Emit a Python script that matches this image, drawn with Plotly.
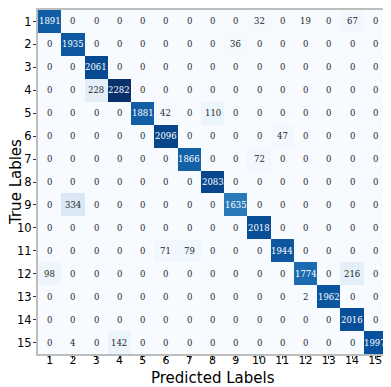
import plotly.graph_objects as go
import plotly.express as px

classes = list(range(1, 16))
labels = [str(c) for c in classes]

# rows = true labels, cols = predicted labels
row_1 = [1891, 0, 0, 0, 0, 0, 0, 0, 0, 32, 0, 19, 0, 67, 0]
row_2 = [0, 1935, 0, 0, 0, 0, 0, 0, 36, 0, 0, 0, 0, 0, 0]
row_3 = [0, 0, 2061, 0, 0, 0, 0, 0, 0, 0, 0, 0, 0, 0, 0]
row_4 = [0, 0, 228, 2282, 0, 0, 0, 0, 0, 0, 0, 0, 0, 0, 0]
row_5 = [0, 0, 0, 0, 1881, 42, 0, 110, 0, 0, 0, 0, 0, 0, 0]
row_6 = [0, 0, 0, 0, 0, 2096, 0, 0, 0, 0, 47, 0, 0, 0, 0]
row_7 = [0, 0, 0, 0, 0, 0, 1866, 0, 0, 72, 0, 0, 0, 0, 0]
row_8 = [0, 0, 0, 0, 0, 0, 0, 2083, 0, 0, 0, 0, 0, 0, 0]
row_9 = [0, 334, 0, 0, 0, 0, 0, 0, 1635, 0, 0, 0, 0, 0, 0]
row_10 = [0, 0, 0, 0, 0, 0, 0, 0, 0, 2018, 0, 0, 0, 0, 0]
row_11 = [0, 0, 0, 0, 0, 71, 79, 0, 0, 0, 1944, 0, 0, 0, 0]
row_12 = [98, 0, 0, 0, 0, 0, 0, 0, 0, 0, 0, 1774, 0, 216, 0]
row_13 = [0, 0, 0, 0, 0, 0, 0, 0, 0, 0, 0, 2, 1962, 0, 0]
row_14 = [0, 0, 0, 0, 0, 0, 0, 0, 0, 0, 0, 0, 0, 2016, 0]
row_15 = [0, 4, 0, 142, 0, 0, 0, 0, 0, 0, 0, 0, 0, 0, 1997]

cm = [row_1, row_2, row_3, row_4, row_5, row_6, row_7, row_8,
      row_9, row_10, row_11, row_12, row_13, row_14, row_15]

zmax = max(max(r) for r in cm)
zmin = min(min(r) for r in cm)
thresh = (zmax + zmin) / 2

fig = go.Figure(go.Heatmap(
    z=cm, x=classes, y=classes,
    colorscale=px.colors.sequential.Blues,
    zmin=zmin, zmax=zmax,
    showscale=False,
))

# cell numbers, white on dark cells
for i, r in enumerate(cm):
    for j, v in enumerate(r):
        fig.add_annotation(x=classes[j], y=classes[i], text=str(v), showarrow=False,
                           font=dict(family="DejaVu Serif", size=8.5,
                                     color="white" if v > thresh else "#262626"))

# axis titles placed by hand (tighter than plotly's own titles)
fig.add_annotation(text="Predicted Labels", xref="paper", yref="paper", x=0.5, y=0,
                   yanchor="middle", yshift=-24, showarrow=False,
                   font=dict(family="DejaVu Sans", size=15, color="black"))
fig.add_annotation(text="True Lables", xref="paper", yref="paper", x=0, y=0.5,
                   xanchor="center", xshift=-22, textangle=-90, showarrow=False,
                   font=dict(family="DejaVu Sans", size=15, color="black"))

# page body adds an 8px offset, margins compensate
fig.update_layout(
    width=383, height=379,
    margin=dict(l=30, r=4, t=0, b=33),
    paper_bgcolor="white", plot_bgcolor="white",
    font=dict(family="DejaVu Sans", color="black"),
)
fig.update_xaxes(
    tickmode="array", tickvals=classes, ticktext=labels,
    tickfont=dict(size=11), ticks="outside", ticklen=3, tickcolor="#333",
    ticklabelstandoff=-8,
    showline=True, linecolor="#bdbdbd", linewidth=2, mirror=True,
    showgrid=False, zeroline=False, range=[0.5, 15.5],
)
fig.update_yaxes(
    tickmode="array", tickvals=classes, ticktext=labels,
    tickfont=dict(size=11.5), ticks="outside", ticklen=3, tickcolor="#333",
    ticklabelstandoff=-1,
    showline=True, linecolor="#bdbdbd", linewidth=2, mirror=True,
    showgrid=False, zeroline=False, range=[15.5, 0.5],
)

fig.write_html("out.html")
